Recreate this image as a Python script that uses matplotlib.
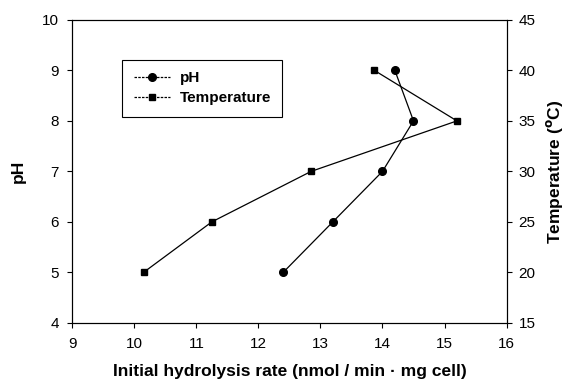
import matplotlib.pyplot as plt
from matplotlib.lines import Line2D

plt.rcParams['font.family'] = ['Liberation Sans', 'DejaVu Sans']

# pH series
ph_rate = [12.4, 13.2, 14.0, 14.5, 14.2]
ph_values = [5, 6, 7, 8, 9]

# temperature series
temp_rate = [10.15, 11.25, 12.85, 15.2, 13.87]
temp_values = [20, 25, 30, 35, 40]

fig = plt.figure(figsize=(5.66, 3.83), dpi=100)
ax = fig.add_axes([0.1276, 0.157, 0.7674, 0.791])
ax2 = ax.twinx()

ax.plot(ph_rate, ph_values, c='black', lw=0.9, marker='o', ms=5.5, label='pH')
ax2.plot(temp_rate, temp_values, c='black', lw=0.9, marker='s', ms=5, label='Temperature')

ax.set_xlim(9, 16)
ax.set_ylim(4, 10)
ax2.set_ylim(15, 45)
ax.set_xticks(range(9, 17))
ax.set_yticks(range(4, 11))
ax2.set_yticks(range(15, 46, 5))

for a in (ax, ax2):
    a.tick_params(labelsize=11, length=3.5, width=0.8, direction='out')
    for s in a.spines.values():
        s.set_linewidth(0.8)
ax.tick_params(axis='x', pad=7)
ax.tick_params(axis='y', pad=6)
ax2.tick_params(axis='y', pad=5)

ax.set_xlabel('Initial hydrolysis rate (nmol / min · mg cell)', fontsize=12.5, fontweight='bold', labelpad=9)
ax.set_ylabel('pH', fontsize=12.5, fontweight='bold', labelpad=12)
ax2.set_ylabel('Temperature ($^{\\mathbf{o}}$C)', fontsize=12.5, fontweight='bold', labelpad=6)

handles = [Line2D([], [], c='black', lw=0.9, ls=(0, (2, 1)), marker='o', ms=5.5),
           Line2D([], [], c='black', lw=0.9, ls=(0, (2, 1)), marker='s', ms=5)]
leg = ax.legend(handles, ['pH', 'Temperature'], loc='upper left', bbox_to_anchor=(0.115, 0.868),
                borderaxespad=0, fancybox=False, edgecolor='black', framealpha=1,
                handlelength=2.4, handletextpad=0.6,
                prop={'weight': 'bold', 'size': 11}, borderpad=0.75, labelspacing=0.4)
leg.get_frame().set_linewidth(0.8)

fig.savefig('out.png', dpi=100)
